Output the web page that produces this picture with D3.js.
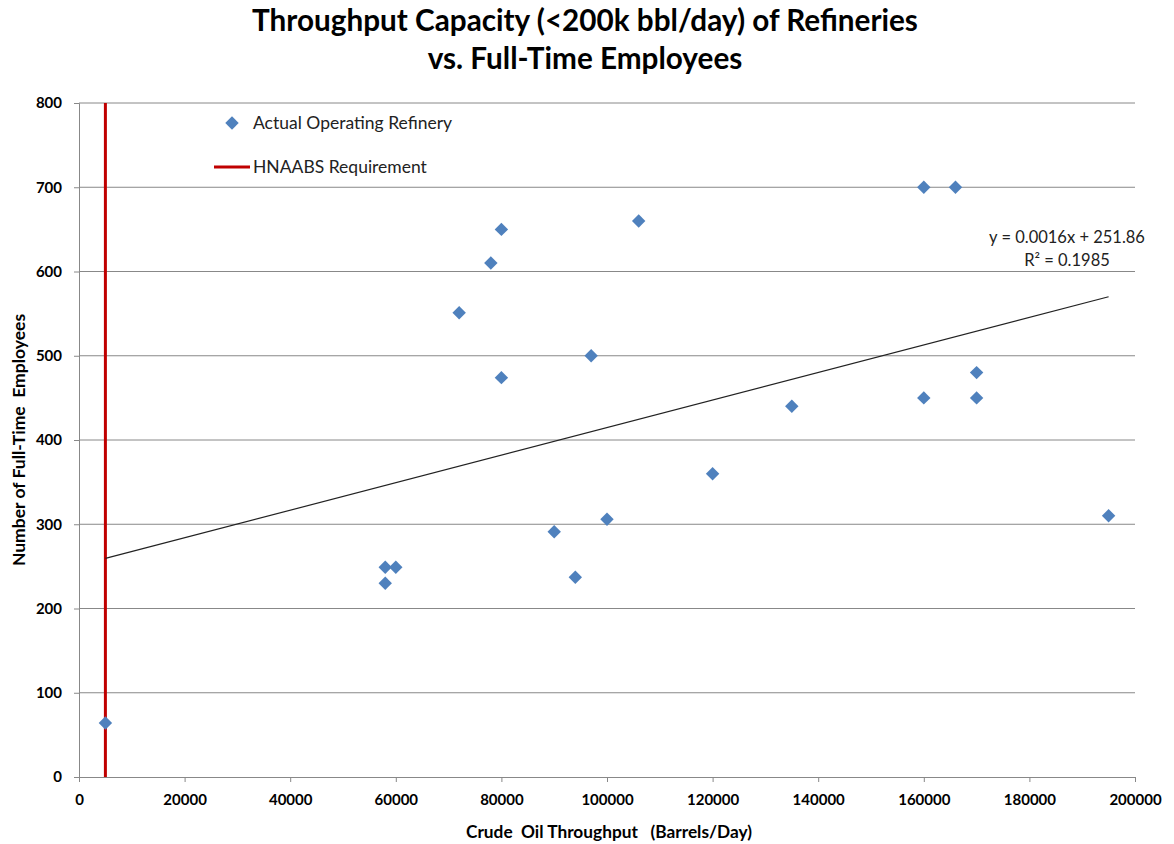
<!DOCTYPE html>
<html>
<head>
<meta charset="utf-8">
<script src="https://cdn.jsdelivr.net/npm/d3@7"></script>
<style>
  body { margin: 0; background: #fff; }
  svg { display: block; }
</style>
</head>
<body>
<svg id="chart" width="1174" height="844"></svg>
<script>
// Refinery throughput (barrels/day) and full-time employees
const throughput = [5000, 58000, 58000, 60000, 72000, 78000, 80000, 80000, 90000, 94000, 97000,
                    100000, 106000, 120000, 135000, 160000, 166000, 160000, 170000, 170000, 195000];
const employees  = [64, 249, 230, 249, 551, 610, 650, 474, 291, 237, 500,
                    306, 660, 360, 440, 700, 700, 450, 480, 450, 310];

// Trend line label text
const trendEquation = "y = 0.0016x  + 251.86";
const trendR2 = "R² = 0.1985";

// HNAABS requirement marker (throughput)
const requirementX = 5000;

const xTicks = [0, 20000, 40000, 60000, 80000, 100000, 120000, 140000, 160000, 180000, 200000];
const yTicks = [0, 100, 200, 300, 400, 500, 600, 700, 800];

const svg = d3.select("#chart");
const plot = { left: 79, right: 1135, top: 103, bottom: 777 };

const x = d3.scaleLinear().domain([0, 200000]).range([plot.left, plot.right]);
const y = d3.scaleLinear().domain([0, 800]).range([plot.bottom, plot.top]);

const font = "Lato, 'Open Sans', sans-serif";
const gridColor = "#888888";

// Least-squares linear fit through the refinery points
const mx = d3.mean(throughput), my = d3.mean(employees);
const sxy = d3.sum(throughput, (t, i) => (t - mx) * (employees[i] - my));
const sxx = d3.sum(throughput, t => (t - mx) ** 2);
const slope = sxy / sxx;
const intercept = my - slope * mx;
const fitExtent = d3.extent(throughput);

// Horizontal gridlines
svg.append("g")
  .selectAll("line")
  .data(yTicks.filter(d => d > 0))
  .join("line")
  .attr("x1", plot.left).attr("x2", plot.right)
  .attr("y1", d => y(d)).attr("y2", d => y(d))
  .attr("stroke", gridColor).attr("stroke-width", 1);

// Y axis
const yAxis = svg.append("g")
  .attr("transform", `translate(${plot.left},0)`)
  .call(d3.axisLeft(y).tickValues(yTicks).tickSize(5).tickPadding(12).tickFormat(d3.format("d")));
yAxis.select(".domain").attr("stroke", gridColor);
yAxis.selectAll(".tick line").attr("stroke", gridColor);
yAxis.selectAll("text")
  .attr("font-family", font).attr("font-size", 15).attr("font-weight", 700).attr("fill", "#000");

// X axis
const xAxis = svg.append("g")
  .attr("transform", `translate(0,${plot.bottom})`)
  .call(d3.axisBottom(x).tickValues(xTicks).tickSize(5).tickPadding(12).tickFormat(d3.format("d")));
xAxis.select(".domain").attr("stroke", gridColor);
xAxis.selectAll(".tick line").attr("stroke", gridColor);
xAxis.selectAll("text")
  .attr("font-family", font).attr("font-size", 15).attr("font-weight", 700).attr("fill", "#000");

// Requirement line
svg.append("line")
  .attr("x1", x(requirementX)).attr("x2", x(requirementX))
  .attr("y1", y(0)).attr("y2", y(800))
  .attr("stroke", "#c00000").attr("stroke-width", 3);

// Trend line
svg.append("line")
  .attr("x1", x(fitExtent[0])).attr("y1", y(slope * fitExtent[0] + intercept))
  .attr("x2", x(fitExtent[1])).attr("y2", y(slope * fitExtent[1] + intercept))
  .attr("stroke", "#222").attr("stroke-width", 1.2);

// Refinery points as diamonds
const diamond = d3.symbol().type(d3.symbolSquare).size(90);
svg.append("g")
  .selectAll("path")
  .data(throughput.map((t, i) => ({ t, e: employees[i] })))
  .join("path")
  .attr("d", diamond)
  .attr("transform", d => `translate(${x(d.t)},${y(d.e)}) rotate(45)`)
  .attr("fill", "#4f81bd");

// Legend
const legend = svg.append("g").attr("font-family", font).attr("font-size", 17.5).attr("fill", "#222");
legend.append("path")
  .attr("d", diamond)
  .attr("transform", "translate(232,123) rotate(45)")
  .attr("fill", "#4f81bd");
legend.append("text").attr("x", 253).attr("y", 129).text("Actual Operating Refinery");
legend.append("line")
  .attr("x1", 214).attr("x2", 250).attr("y1", 167).attr("y2", 167)
  .attr("stroke", "#c00000").attr("stroke-width", 3);
legend.append("text").attr("x", 253).attr("y", 173).text("HNAABS Requirement");

// Trend equation
const eq = svg.append("g").attr("font-family", font).attr("font-size", 16.5).attr("fill", "#222")
  .attr("text-anchor", "middle").attr("xml:space", "preserve");
eq.append("text").attr("x", 1067).attr("y", 243).text(trendEquation);
eq.append("text").attr("x", 1067).attr("y", 266).text(trendR2);

// Titles
const title = svg.append("g").attr("font-family", font).attr("font-weight", 700)
  .attr("font-size", 29.7).attr("text-anchor", "middle").attr("fill", "#000");
title.append("text").attr("x", 585).attr("y", 31)
  .text("Throughput Capacity (<200k bbl/day) of Refineries");
title.append("text").attr("x", 585).attr("y", 69)
  .text("vs. Full-Time Employees");

svg.append("text")
  .attr("x", 609).attr("y", 838)
  .attr("text-anchor", "middle")
  .attr("font-family", font).attr("font-weight", 700).attr("font-size", 17.3)
  .attr("xml:space", "preserve")
  .text("Crude  Oil Throughput   (Barrels/Day)");

svg.append("text")
  .attr("transform", "translate(25,440) rotate(-90)")
  .attr("text-anchor", "middle")
  .attr("font-family", font).attr("font-weight", 700).attr("font-size", 17.5)
  .attr("xml:space", "preserve")
  .text("Number of Full-Time  Employees");
</script>
</body>
</html>
